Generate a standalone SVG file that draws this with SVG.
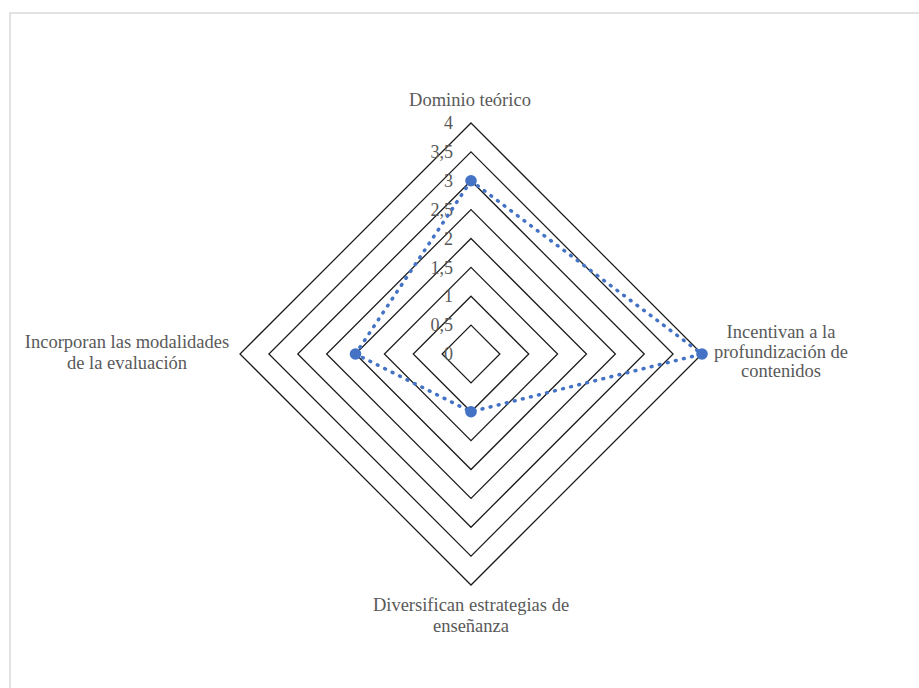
<svg xmlns="http://www.w3.org/2000/svg" width="919" height="688" viewBox="0 0 919 688">
<style>
.grid{fill:none;stroke:#1a1a1a;stroke-width:1.25}
.tick{font-family:"Liberation Serif","Times New Roman",serif;font-size:18px;fill:#595959;text-anchor:end}
.cat{font-family:"Liberation Serif","Times New Roman",serif;font-size:18.5px;fill:#595959;text-anchor:middle}
.series{fill:none;stroke:#4472C4;stroke-width:3.5;stroke-linecap:round;stroke-dasharray:0.8 7.5}
.mk{fill:#4472C4}
</style>
<rect x="0" y="0" width="919" height="688" fill="#ffffff"/>
<rect x="10" y="13" width="1000" height="1000" fill="none" stroke="#d9d9d9" stroke-width="1.5"/>
<g id="grid">
<polygon class="grid" points="471,123 702,354 471,585 240,354"/>
<polygon class="grid" points="471,151.9 673.1,354 471,556.1 268.9,354"/>
<polygon class="grid" points="471,180.75 644.25,354 471,527.25 297.75,354"/>
<polygon class="grid" points="471,209.6 615.4,354 471,498.4 326.6,354"/>
<polygon class="grid" points="471,238.5 586.5,354 471,469.5 355.5,354"/>
<polygon class="grid" points="471,267.4 557.6,354 471,440.6 384.4,354"/>
<polygon class="grid" points="471,296.25 528.75,354 471,411.75 413.25,354"/>
<polygon class="grid" points="471,325.1 499.9,354 471,382.9 442.1,354"/>
</g>
<g id="ticks">
<text class="tick" x="453" y="129">4</text>
<text class="tick" x="453" y="158">3,5</text>
<text class="tick" x="453" y="187">3</text>
<text class="tick" x="453" y="216">2,5</text>
<text class="tick" x="453" y="245">2</text>
<text class="tick" x="453" y="274">1,5</text>
<text class="tick" x="453" y="302">1</text>
<text class="tick" x="453" y="331">0,5</text>
<text class="tick" x="453" y="360">0</text>
</g>
<g id="connectors">
<polygon class="series" points="471,180.75 702,354 471,411.75 355.5,354"/>
</g>
<g id="node-dominio">
<circle class="mk" cx="471" cy="180.75" r="5.8"/>
<text class="cat" x="470" y="106">Dominio teórico</text>
</g>
<g id="node-incentivan">
<circle class="mk" cx="702" cy="354" r="5.8"/>
<text class="cat" x="781" y="338">Incentivan a la</text>
<text class="cat" x="781" y="358">profundización de</text>
<text class="cat" x="781" y="377">contenidos</text>
</g>
<g id="node-diversifican">
<circle class="mk" cx="471" cy="411.75" r="5.8"/>
<text class="cat" x="471" y="611">Diversifican estrategias de</text>
<text class="cat" x="471" y="632">enseñanza</text>
</g>
<g id="node-incorporan">
<circle class="mk" cx="355.5" cy="354" r="5.8"/>
<text class="cat" x="127" y="348">Incorporan las modalidades</text>
<text class="cat" x="127" y="369">de la evaluación</text>
</g>
</svg>
